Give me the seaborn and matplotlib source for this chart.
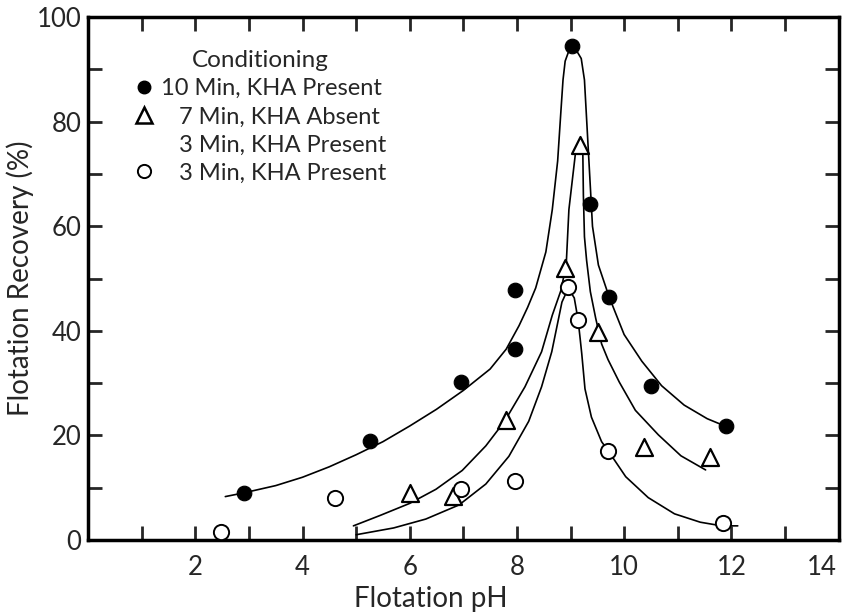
import matplotlib
matplotlib.use("Agg")
import matplotlib.pyplot as plt
import matplotlib.transforms as mtransforms
from matplotlib.lines import Line2D
from matplotlib.ticker import MultipleLocator
import seaborn as sns

kha10_x = [2.9, 5.26, 6.95, 7.96, 7.96, 9.02, 9.36, 9.72, 10.5, 11.9]
kha10_y = [9.0, 19.0, 30.3, 47.8, 36.5, 94.5, 64.3, 46.5, 29.5, 21.8]

absent7_x = [6.01, 6.8, 7.8, 8.9, 9.17, 9.52, 10.38, 11.6]
absent7_y = [9.0, 8.5, 23.0, 52.0, 75.5, 39.8, 17.8, 15.9]

kha3_x = [2.48, 4.6, 6.95, 7.96, 8.95, 9.14, 9.7, 11.85]
kha3_y = [1.5, 8.0, 9.7, 11.3, 48.3, 42.0, 17.1, 3.2]

# hand drawn trend curves
curve10_x = [2.56, 2.9, 3.5, 4.0, 4.5, 5.0, 5.5, 6.0, 6.5, 7.0, 7.5, 7.8, 8.04, 8.2, 8.35,
             8.54, 8.66, 8.76, 8.82, 8.86, 8.9, 8.96, 9.04, 9.13, 9.2, 9.26, 9.31, 9.36,
             9.41, 9.52, 9.72, 10.0, 10.33, 10.7, 11.12, 11.55, 11.88]
curve10_y = [8.3, 9.0, 10.4, 12.0, 14.0, 16.3, 18.8, 21.8, 25.0, 28.6, 32.7, 36.5, 41.0, 44.5, 48.2,
             55.1, 63.2, 72.5, 81.9, 88.0, 91.6, 93.3, 93.8, 93.3, 92.1, 88.0, 78.7, 69.4,
             60.0, 52.6, 46.5, 39.3, 34.2, 29.5, 25.8, 23.2, 21.8]

curve7_x = [4.95, 5.45, 6.0, 6.49, 6.98, 7.42, 7.77, 8.15, 8.46, 8.66, 8.82, 8.92, 8.97, 9.04,
            9.09, 9.16, 9.23, 9.24, 9.26, 9.30, 9.37, 9.47, 9.58, 9.7, 9.91, 10.21, 10.64,
            11.06, 11.52]
curve7_y = [2.7, 4.7, 7.0, 9.7, 13.3, 18.0, 22.7, 29.3, 36.0, 43.0, 47.7, 52.7, 63.2, 69.4,
            73.8, 76.0, 73.8, 66.0, 58.0, 53.5, 47.5, 42.4, 37.5, 34.5, 30.2, 24.8, 20.1,
            16.1, 13.4]

curve3_x = [5.0, 5.7, 6.3, 6.92, 7.42, 7.85, 8.22, 8.46, 8.65, 8.76, 8.84, 8.92, 8.98, 9.07,
            9.14, 9.18, 9.21, 9.27, 9.39, 9.58, 9.7, 10.03, 10.45, 10.94, 11.42, 11.82, 12.12]
curve3_y = [1.0, 2.3, 4.0, 6.7, 10.7, 16.0, 22.7, 29.3, 36.0, 41.5, 45.5, 47.3, 47.8, 46.3,
            42.2, 38.5, 35.6, 28.9, 23.5, 18.8, 17.1, 12.1, 8.1, 5.0, 3.4, 2.7, 2.7]

legend_labels = ["10 Min, KHA Present", "   7 Min, KHA Absent",
                 "   3 Min, KHA Present", "   3 Min, KHA Present"]

sns.set_style("ticks")
plt.rcParams["font.family"] = ["Lato", "DejaVu Sans"]

fig, ax = plt.subplots(figsize=(8.47, 6.15), dpi=100)
fig.subplots_adjust(left=0.104, right=0.99, top=0.972, bottom=0.122)

line_kw = dict(color="black", linewidth=1.2, sort=False, estimator=None, legend=False)
sns.lineplot(x=curve10_x, y=curve10_y, ax=ax, **line_kw)
sns.lineplot(x=curve7_x, y=curve7_y, ax=ax, **line_kw)
sns.lineplot(x=curve3_x, y=curve3_y, ax=ax, **line_kw)

sns.scatterplot(x=kha10_x, y=kha10_y, ax=ax, marker="o", s=110, color="black",
                edgecolor="black", zorder=5, legend=False)
sns.scatterplot(x=absent7_x, y=absent7_y, ax=ax, marker="^", s=150, color="white",
                edgecolor="black", linewidth=1.6, zorder=5, legend=False)
sns.scatterplot(x=kha3_x, y=kha3_y, ax=ax, marker="o", s=120, color="white",
                edgecolor="black", linewidth=1.4, zorder=5, legend=False)

ax.set_xlim(0, 14)
ax.set_ylim(0, 100)
ax.set_xticks([2, 4, 6, 8, 10, 12, 14])
ax.xaxis.set_minor_locator(MultipleLocator(1))
ax.yaxis.set_major_locator(MultipleLocator(20))
ax.yaxis.set_minor_locator(MultipleLocator(10))
ax.tick_params(which="both", direction="in", length=10, width=2, top=True, right=True,
               labelsize=18.5, pad=11)
ax.tick_params(axis="y", pad=5)
for sp in ax.spines.values():
    sp.set_linewidth(2.5)
    sp.set_color("black")

# the last x label sits a little inside the right border in the original
last = ax.get_xticklabels()[-1]
last.set_transform(last.get_transform() +
                   mtransforms.ScaledTranslation(-12 / 72, 0, fig.dpi_scale_trans))

ax.set_xlabel("Flotation pH", fontsize=20, labelpad=2)
ax.set_ylabel("Flotation Recovery (%)", fontsize=20, labelpad=2)
ax.xaxis.set_label_coords(0.457, -0.088)

handles = [
    Line2D([], [], linestyle="none", marker="o", markersize=9, color="black"),
    Line2D([], [], linestyle="none", marker="^", markersize=11, markerfacecolor="white",
           markeredgecolor="black", markeredgewidth=1.8),
    Line2D([], [], linestyle="none", marker=None),
    Line2D([], [], linestyle="none", marker="o", markersize=9.5, markerfacecolor="white",
           markeredgecolor="black", markeredgewidth=1.4),
]
leg = ax.legend(handles, legend_labels, title="Conditioning", loc="upper left",
                bbox_to_anchor=(0.05, 0.955), frameon=False, fontsize=17,
                title_fontsize=17.5, handlelength=0.8, handletextpad=0.3,
                labelspacing=0.3, borderaxespad=0)

fig.savefig("out.png", dpi=100)
